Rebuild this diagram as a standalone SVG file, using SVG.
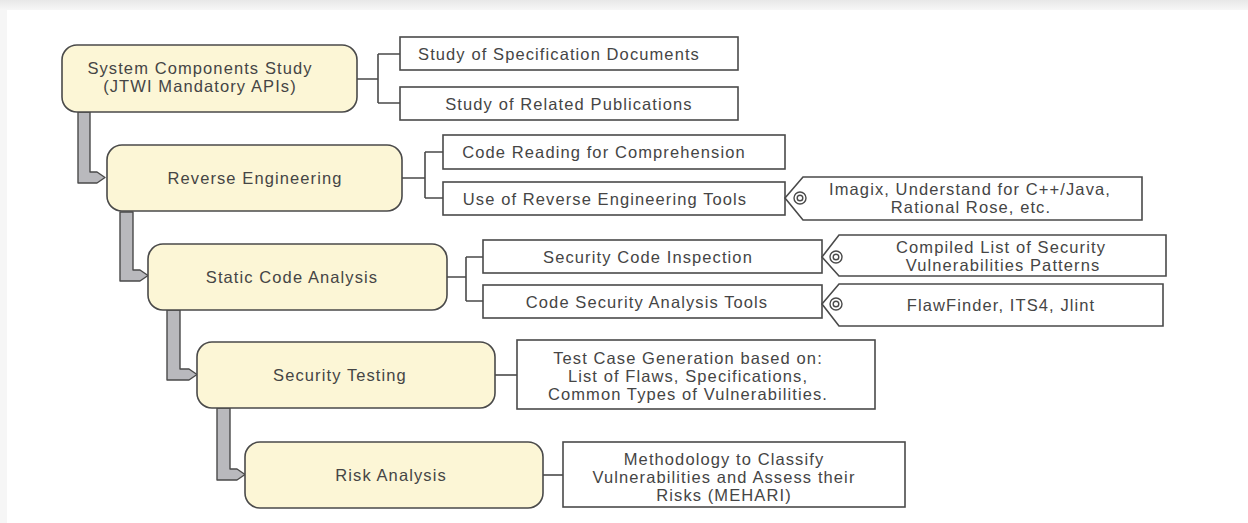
<svg xmlns="http://www.w3.org/2000/svg" width="1248" height="523" viewBox="0 0 1248 523">
<defs>
<linearGradient id="topband" x1="0" y1="0" x2="0" y2="1">
<stop offset="0" stop-color="#e8e8e8"/>
<stop offset="1" stop-color="#f7f7f7"/>
</linearGradient>
<style>
.stage{fill:#fcf6d6;stroke:#4a4a4a;stroke-width:1.6}
.box{fill:#ffffff;stroke:#4a4a4a;stroke-width:1.6}
.flow{fill:#b9b9bd;stroke:#4a4a4a;stroke-width:1.4;stroke-linejoin:round}
.line{fill:none;stroke:#4a4a4a;stroke-width:1.6}
.ico{fill:#ffffff;stroke:#4a4a4a;stroke-width:1.4}
text{font-family:"Liberation Sans",Arial,sans-serif;font-size:16.5px;fill:#454545;text-anchor:middle;letter-spacing:1.1px}
</style>
</defs>
<rect x="0" y="0" width="1248" height="523" fill="#ffffff"/>
<rect x="0" y="0" width="1248" height="10" fill="url(#topband)"/>
<rect x="0" y="10" width="7" height="513" fill="#f6f6f6"/>

<g id="connectors">
<path class="flow" d="M78,112 L90,112 L90,172 L97,172 L105,177.5 L97,183 L78,183 Z"/>
<path class="flow" d="M120,212 L133,212 L133,270 L140,270 L148,275.5 L140,281 L120,281 Z"/>
<path class="flow" d="M167,310 L180,310 L180,369 L189,369 L197,374.5 L189,380 L167,380 Z"/>
<path class="flow" d="M217,408 L230,408 L230,469 L237,469 L245,474.5 L237,480 L217,480 Z"/>
<path class="line" d="M357,79 H378 M378,54 V103 M378,54 H400 M378,103 H400"/>
<path class="line" d="M402,178 H425 M425,152 V198 M425,152 H443 M425,198 H443"/>
<path class="line" d="M447,277 H466 M466,257 V301 M466,257 H483 M466,301 H483"/>
<path class="line" d="M495,375 H517"/>
<path class="line" d="M543,475 H563"/>
</g>

<g id="n-system"><rect class="stage" x="62" y="45" width="295" height="67" rx="15"/>
<text x="200" y="74">System Components Study</text><text x="200" y="92">(JTWI Mandatory APIs)</text></g>
<g id="n-reverse"><rect class="stage" x="107" y="145" width="295" height="66" rx="15"/>
<text x="255" y="184">Reverse Engineering</text></g>
<g id="n-static"><rect class="stage" x="148" y="244" width="299" height="66" rx="15"/>
<text x="292" y="283">Static Code Analysis</text></g>
<g id="n-testing"><rect class="stage" x="197" y="342" width="298" height="66" rx="15"/>
<text x="340" y="381">Security Testing</text></g>
<g id="n-risk"><rect class="stage" x="245" y="442" width="298" height="66" rx="15"/>
<text x="391" y="481">Risk Analysis</text></g>

<g id="b-spec"><rect class="box" x="400" y="37" width="338" height="33"/><text x="559" y="60">Study of Specification Documents</text></g>
<g id="b-pub"><rect class="box" x="400" y="87" width="338" height="33"/><text x="569" y="110">Study of Related Publications</text></g>
<g id="b-reading"><rect class="box" x="443" y="135" width="342" height="34"/><text x="604" y="158">Code Reading for Comprehension</text></g>
<g id="b-retools"><rect class="box" x="443" y="182" width="342" height="33"/><text x="605" y="205">Use of Reverse Engineering Tools</text></g>
<g id="b-inspect"><rect class="box" x="483" y="240" width="339" height="33"/><text x="648" y="263">Security Code Inspection</text></g>
<g id="b-sectools"><rect class="box" x="483" y="285" width="339" height="33"/><text x="647" y="308">Code Security Analysis Tools</text></g>
<g id="b-testcase"><rect class="box" x="517" y="340" width="358" height="69"/>
<text x="688" y="364">Test Case Generation based on:</text><text x="688" y="382">List of Flaws, Specifications,</text><text x="688" y="400">Common Types of Vulnerabilities.</text></g>
<g id="b-method"><rect class="box" x="563" y="442" width="342" height="65"/>
<text x="724" y="465">Methodology to Classify</text><text x="724" y="483">Vulnerabilities and Assess their</text><text x="724" y="501">Risks (MEHARI)</text></g>

<g id="c-imagix"><path class="box" d="M785,198 L803,177 H1142 V220 H803 Z"/>
<circle class="ico" cx="800" cy="198" r="6"/><circle class="ico" cx="800" cy="198" r="2.8"/>
<text x="970" y="195">Imagix, Understand for C++/Java,</text><text x="971" y="213">Rational Rose, etc.</text></g>
<g id="c-patterns"><path class="box" d="M822,257 L839,235 H1166 V276 H839 Z"/>
<circle class="ico" cx="836" cy="257" r="6"/><circle class="ico" cx="836" cy="257" r="2.8"/>
<text x="1001" y="253">Compiled List of Security</text><text x="1003" y="271">Vulnerabilities Patterns</text></g>
<g id="c-flaw"><path class="box" d="M822,304 L839,284 H1163 V326 H839 Z"/>
<circle class="ico" cx="836" cy="304" r="6"/><circle class="ico" cx="836" cy="304" r="2.8"/>
<text x="1001" y="311">FlawFinder, ITS4, Jlint</text></g>
</svg>
